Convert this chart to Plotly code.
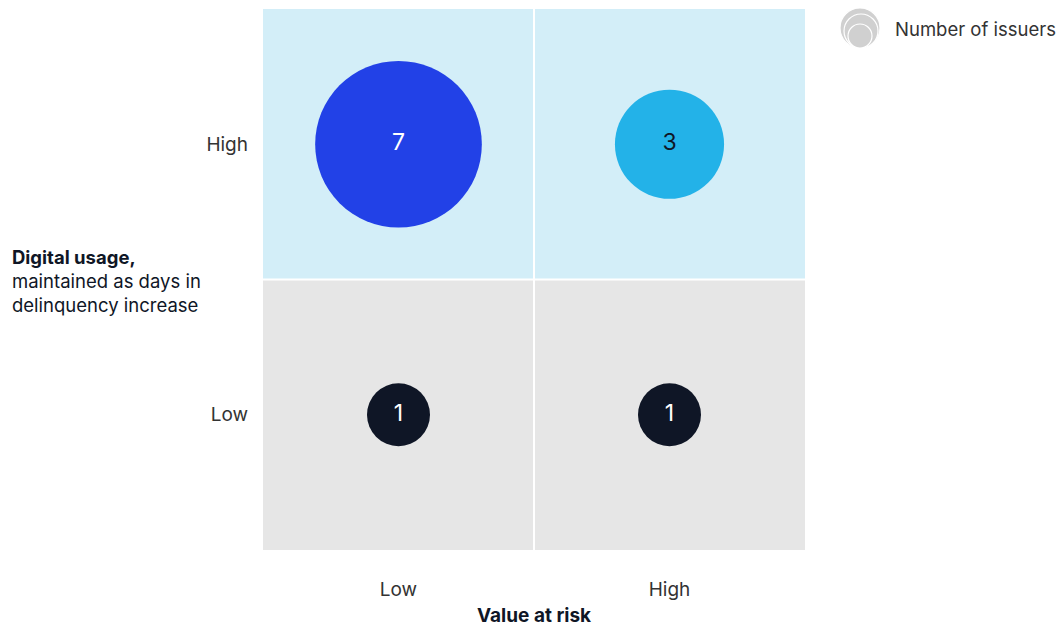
import plotly.graph_objects as go

value_at_risk = ["Low", "High", "Low", "High"]
digital_usage = ["High", "High", "Low", "Low"]
issuers = [7, 3, 1, 1]
bubble_colors = ["#2241E7", "#23B2E8", "#0F1626", "#0F1626"]
text_colors = ["#FFFFFF", "#0F1626", "#FFFFFF", "#FFFFFF"]
categories = ["Low", "High"]

FONT = "Inter, Roboto, Arial, sans-serif"

fig = go.Figure()
fig.add_trace(go.Scatter(
    x=value_at_risk, y=digital_usage, mode="markers+text",
    text=[str(v) for v in issuers],
    textposition="middle center",
    textfont=dict(family=FONT, size=23, color=text_colors),
    marker=dict(size=issuers, sizemode="area", sizeref=2 / 63**2,
                color=bubble_colors, line=dict(width=0), opacity=1),
    showlegend=False, hoverinfo="skip", cliponaxis=False,
))

shapes = [
    dict(type="rect", xref="x", yref="y", x0=-0.5, x1=1.5, y0=0.5, y1=1.5,
         fillcolor="#D3EEF8", line=dict(width=0), layer="below"),
    dict(type="rect", xref="x", yref="y", x0=-0.5, x1=1.5, y0=-0.5, y1=0.5,
         fillcolor="#E6E6E6", line=dict(width=0), layer="below"),
    dict(type="line", xref="x", yref="y", x0=0.5, x1=0.5, y0=-0.5, y1=1.5,
         line=dict(color="white", width=2), layer="below"),
    dict(type="line", xref="x", yref="y", x0=-0.5, x1=1.5, y0=0.5, y1=0.5,
         line=dict(color="white", width=2), layer="below"),
]

# legend icon: nested circles (pixel positions converted to paper coords)
def px2paper_x(px):
    return (px - 263) / 542

def px2paper_y(py):
    return (550 - py) / 541

for (x0, x1, y0, y1) in [(840, 880, 8, 48), (844, 878, 14, 48), (848, 872, 24, 48)]:
    shapes.append(dict(type="circle", xref="paper", yref="paper",
                       x0=px2paper_x(x0), x1=px2paper_x(x1),
                       y0=px2paper_y(y1), y1=px2paper_y(y0),
                       fillcolor="#D0D0D0", line=dict(color="white", width=1.2)))

annotations = [
    dict(text="Number of issuers", xref="paper", yref="paper",
         x=px2paper_x(893), y=px2paper_y(29), xanchor="left", yanchor="middle",
         showarrow=False, font=dict(family=FONT, size=18.5, color="#333333")),
    dict(text="<b>Digital usage,</b><br>maintained as days in<br>delinquency increase",
         xref="paper", yref="paper", x=px2paper_x(10), y=px2paper_y(281),
         xanchor="left", yanchor="middle", align="left", showarrow=False,
         font=dict(family=FONT, size=18.5, color="#0F1626")),
    dict(text="<b>Value at risk</b>", xref="paper", yref="paper",
         x=0.5, y=px2paper_y(615), xanchor="center", yanchor="middle",
         showarrow=False, font=dict(family=FONT, size=19, color="#0F1626")),
]

fig.update_layout(
    width=1058, height=626,
    margin=dict(l=263, r=253, t=9, b=76),
    paper_bgcolor="white", plot_bgcolor="white",
    shapes=shapes, annotations=annotations,
    font=dict(family=FONT),
    xaxis=dict(type="category", categoryorder="array", categoryarray=categories,
               range=[-0.5, 1.5], showgrid=False, zeroline=False, showline=False,
               ticks="", ticklabelstandoff=26,
               tickfont=dict(family=FONT, size=19, color="#333333"), fixedrange=True),
    yaxis=dict(type="category", categoryorder="array", categoryarray=categories,
               range=[-0.5, 1.5], showgrid=False, zeroline=False, showline=False,
               ticks="", ticklabelstandoff=14,
               tickfont=dict(family=FONT, size=19, color="#333333"), fixedrange=True),
)

fig.write_html("out.html")
